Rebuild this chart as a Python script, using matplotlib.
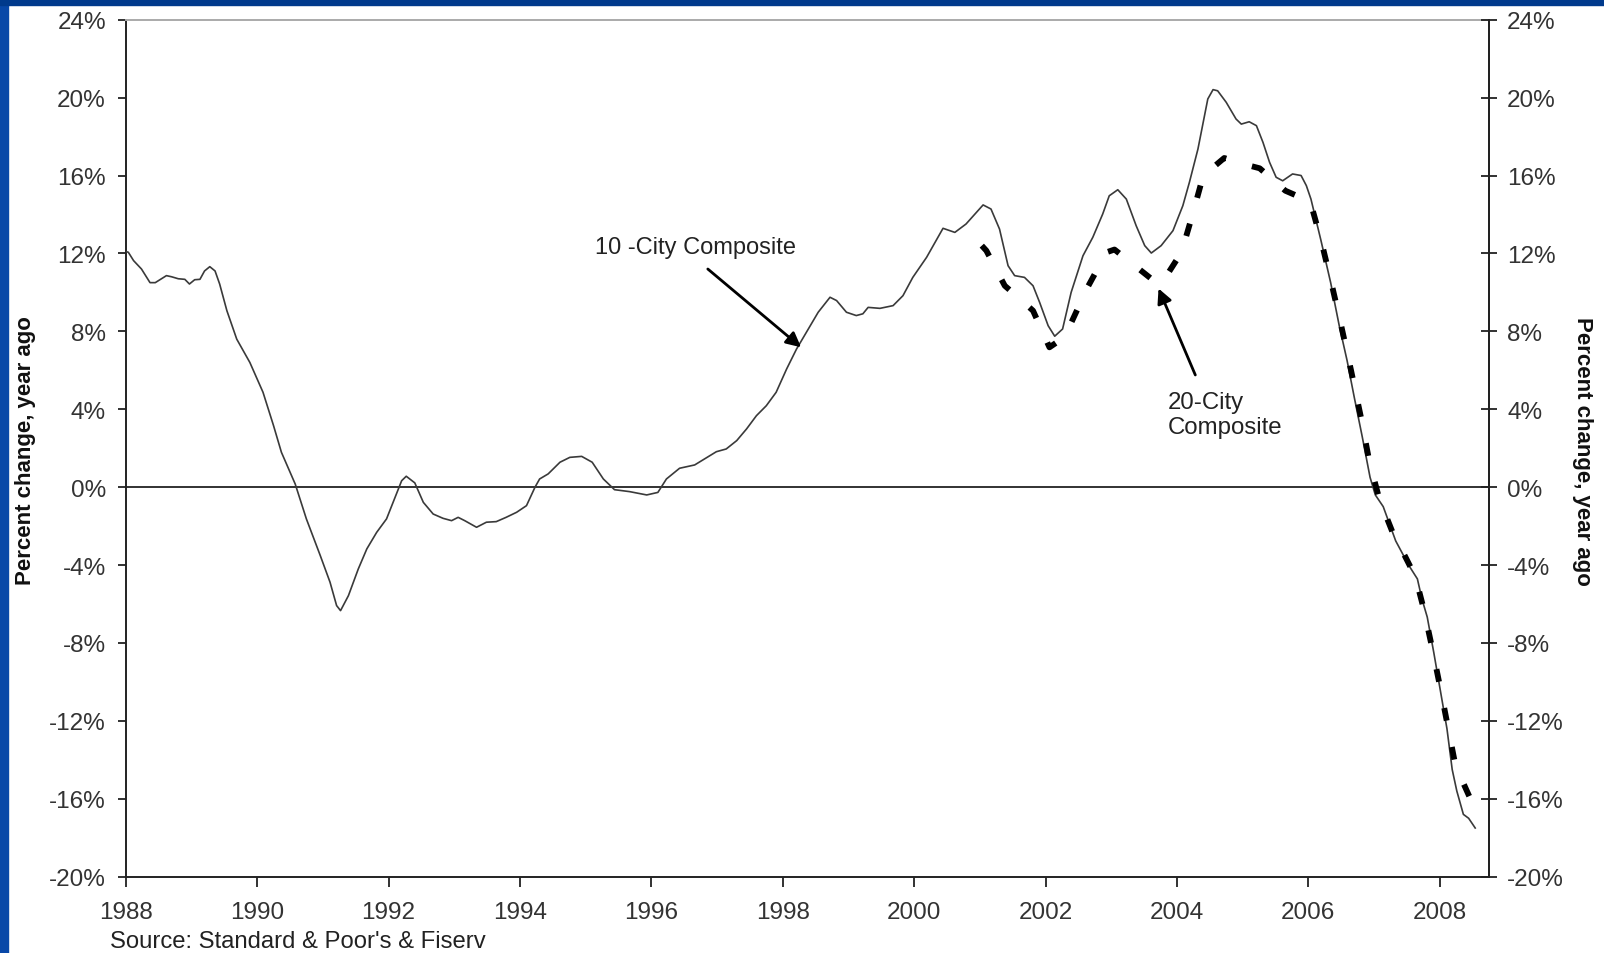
import matplotlib
matplotlib.use("Agg")
import matplotlib.pyplot as plt
from matplotlib.patches import Rectangle
from matplotlib.ticker import FuncFormatter

plt.rcParams['font.family'] = ['Liberation Sans', 'DejaVu Sans']
plt.rcParams['axes.unicode_minus'] = False

# ---- data ----
city10_x = [1988.00, 1988.04, 1988.12, 1988.24, 1988.37, 1988.45, 1988.62, 1988.70, 1988.80, 1988.90,
            1988.97, 1989.05, 1989.13, 1989.20, 1989.28, 1989.36, 1989.43, 1989.54, 1989.69, 1989.89,
            1990.09, 1990.25, 1990.37, 1990.58, 1990.75, 1990.96, 1991.11, 1991.21, 1991.27, 1991.39,
            1991.54, 1991.67, 1991.82, 1991.97, 1992.07, 1992.20, 1992.27, 1992.40, 1992.53, 1992.68,
            1992.83, 1992.96, 1993.06, 1993.16, 1993.34, 1993.49, 1993.64, 1993.79, 1993.95, 1994.10,
            1994.23, 1994.30, 1994.43, 1994.61, 1994.76, 1994.94, 1995.10, 1995.27, 1995.44, 1995.67,
            1995.93, 1996.10, 1996.23, 1996.43, 1996.66, 1996.81, 1996.99, 1997.14, 1997.30, 1997.45,
            1997.60, 1997.75, 1997.90, 1998.06, 1998.21, 1998.36, 1998.54, 1998.72, 1998.82, 1998.97,
            1999.12, 1999.22, 1999.30, 1999.48, 1999.68, 1999.83, 1999.98, 2000.19, 2000.44, 2000.62,
            2000.79, 2001.05, 2001.17, 2001.30, 2001.43, 2001.53, 2001.68, 2001.81, 2001.91, 2002.04,
            2002.14, 2002.26, 2002.39, 2002.57, 2002.72, 2002.87, 2002.97, 2003.10, 2003.23, 2003.38,
            2003.51, 2003.61, 2003.76, 2003.94, 2004.09, 2004.19, 2004.32, 2004.39, 2004.47, 2004.55,
            2004.62, 2004.75, 2004.90, 2004.98, 2005.10, 2005.21, 2005.31, 2005.41, 2005.51, 2005.61,
            2005.76, 2005.89, 2005.97, 2006.04, 2006.19, 2006.34, 2006.47, 2006.59, 2006.70, 2006.82,
            2006.94, 2007.02, 2007.14, 2007.33, 2007.53, 2007.66, 2007.73, 2007.81, 2007.91, 2008.01,
            2008.11, 2008.19, 2008.26, 2008.36, 2008.44, 2008.54]
city10_y = [12.1, 12.06, 11.63, 11.2, 10.5, 10.5, 10.86, 10.8, 10.7, 10.67,
            10.43, 10.65, 10.67, 11.1, 11.32, 11.1, 10.43, 9.06, 7.6, 6.4,
            4.87, 3.16, 1.79, 0.16, -1.63, -3.5, -4.88, -6.08, -6.34, -5.57,
            -4.2, -3.17, -2.32, -1.63, -0.78, 0.33, 0.56, 0.22, -0.78, -1.38,
            -1.6, -1.72, -1.55, -1.72, -2.06, -1.8, -1.77, -1.55, -1.29, -0.95,
            0.0, 0.42, 0.68, 1.28, 1.53, 1.58, 1.28, 0.42, -0.13, -0.23,
            -0.4, -0.27, 0.42, 0.97, 1.14, 1.45, 1.82, 1.96, 2.39, 2.99,
            3.67, 4.18, 4.87, 6.07, 7.09, 7.95, 8.98, 9.75, 9.58, 8.98,
            8.81, 8.9, 9.23, 9.18, 9.32, 9.83, 10.77, 11.8, 13.29, 13.08,
            13.51, 14.49, 14.28, 13.25, 11.37, 10.86, 10.77, 10.34, 9.49, 8.29,
            7.75, 8.12, 10.0, 11.88, 12.83, 14.02, 14.96, 15.27, 14.79, 13.42,
            12.4, 12.02, 12.4, 13.17, 14.45, 15.65, 17.36, 18.56, 19.93, 20.41,
            20.35, 19.76, 18.9, 18.64, 18.76, 18.56, 17.7, 16.68, 15.91, 15.73,
            16.08, 16.0, 15.48, 14.79, 12.7, 10.5, 8.3, 6.5, 4.6, 2.6,
            0.5, -0.4, -1.0, -2.76, -4.02, -4.71, -5.75, -6.67, -8.5, -10.46,
            -12.4, -14.5, -15.6, -16.8, -17.0, -17.5]

city20_x = [2001.03, 2001.10, 2001.38, 2001.60, 2001.81, 2002.06, 2002.20, 2002.39, 2002.64, 2002.93,
            2003.05, 2003.36, 2003.71, 2003.85, 2004.07, 2004.24, 2004.40, 2004.72, 2005.00, 2005.26,
            2005.65, 2006.03, 2006.20, 2006.35, 2006.50, 2006.65, 2006.80, 2006.93, 2007.08, 2007.28,
            2007.48, 2007.63, 2007.76, 2007.90, 2008.02, 2008.13, 2008.24, 2008.48]
city20_y = [12.4, 12.14, 10.34, 9.7, 9.06, 7.18, 7.5, 8.43, 10.26, 12.06,
            12.2, 11.37, 10.43, 10.9, 12.06, 14.02, 15.99, 16.9, 16.6, 16.37,
            15.22, 14.66, 12.6, 10.5, 8.3, 6.0, 3.6, 1.3, -0.6, -2.3,
            -3.6, -4.6, -6.3, -8.5, -10.5, -12.4, -14.3, -16.1]

year_ticks = [1988, 1990, 1992, 1994, 1996, 1998, 2000, 2002, 2004, 2006, 2008]
pct_ticks = [-20, -16, -12, -8, -4, 0, 4, 8, 12, 16, 20, 24]

label10 = "10 -City Composite"
label20 = "20-City\nComposite"
ylabel = "Percent change, year ago"
source = "Source: Standard & Poor's & Fiserv"

# ---- figure ----
W, H = 1604, 954
fig = plt.figure(figsize=(W / 100, H / 100), dpi=100, facecolor='white')
# blue frame (slide background)
fig.patches.append(Rectangle((0, 0), 8 / W, 1, transform=fig.transFigure, color='#0848a8', zorder=0))
fig.patches.append(Rectangle((0, 1 - 6 / H), 1, 6 / H, transform=fig.transFigure, color='#003a8c', zorder=0))

left, right = 125.7 / W, 1489 / W
bottom, top = (H - 877.7) / H, (H - 20.7) / H
ax = fig.add_axes([left, bottom, right - left, top - bottom])
ax.set_facecolor('white')

ax.plot(city10_x, city10_y, color='#3a3a3a', lw=1.2, solid_joinstyle='round', zorder=3)
ax.plot(city20_x, city20_y, color='black', lw=4.2, linestyle=(0, (2.2, 4.6)),
        dash_capstyle='butt', zorder=4)
ax.axhline(0, color='#222222', lw=1.3, zorder=2)

ax.set_xlim(1988, 2008.75)
ax.set_ylim(-20, 24)
ax.set_xticks(year_ticks)
ax.set_yticks(pct_ticks)
fmt = FuncFormatter(lambda v, p: f"{int(round(v))}%")
ax.yaxis.set_major_formatter(fmt)

for s in ['left', 'bottom', 'right']:
    ax.spines[s].set_color('#222222')
    ax.spines[s].set_linewidth(1.4)
ax.spines['top'].set_color('#aaaaaa')
ax.spines['top'].set_linewidth(1.4)

TICK_FS = 17.5
ax.tick_params(axis='x', direction='out', length=7.5, width=1.3, color='#222222',
               labelsize=TICK_FS, labelcolor='#333333', pad=10)
ax.tick_params(axis='y', direction='out', length=5.5, width=1.3, color='#222222',
               labelsize=TICK_FS, labelcolor='#333333', pad=8.7)

ax2 = ax.twinx()
ax2.set_ylim(-20, 24)
ax2.set_yticks(pct_ticks)
ax2.yaxis.set_major_formatter(fmt)
ax2.tick_params(axis='y', direction='inout', length=11, width=1.3, color='#222222',
                labelsize=TICK_FS, labelcolor='#333333', pad=7.5)
for s in ['left', 'bottom', 'top']:
    ax2.spines[s].set_visible(False)
ax2.spines['right'].set_color('#222222')
ax2.spines['right'].set_linewidth(1.4)

# axis titles
fig.text(25.6 / W, 1 - 451 / H, ylabel, rotation=90, ha='center', va='center',
         fontsize=16, fontweight='bold', color='#111111')
fig.text(1583 / W, 1 - 451 / H, ylabel, rotation=270, ha='center', va='center',
         fontsize=16, fontweight='bold', color='#111111')

# annotations
ax.annotate("", xy=(1998.28, 7.18), xytext=(1996.86, 11.2),
            arrowprops=dict(arrowstyle='-|>', color='black', lw=2.0, mutation_scale=22,
                            shrinkA=0, shrinkB=0), zorder=5)
ax.text(1996.67, 12.32, label10, ha='center', va='center', fontsize=17, color='#222222')

ax.annotate("", xy=(2003.72, 10.2), xytext=(2004.28, 5.76),
            arrowprops=dict(arrowstyle='-|>', color='black', lw=2.0, mutation_scale=22,
                            shrinkA=0, shrinkB=0), zorder=5)
ax.text(2003.86, 3.73, label20, ha='left', va='center', fontsize=17.3, color='#222222',
        linespacing=1.2)

fig.text(110.5 / W, 1 - 942 / H, source, ha='left', va='center', fontsize=17.2, color='#222222')

fig.savefig("out.png", dpi=100, facecolor='white')
